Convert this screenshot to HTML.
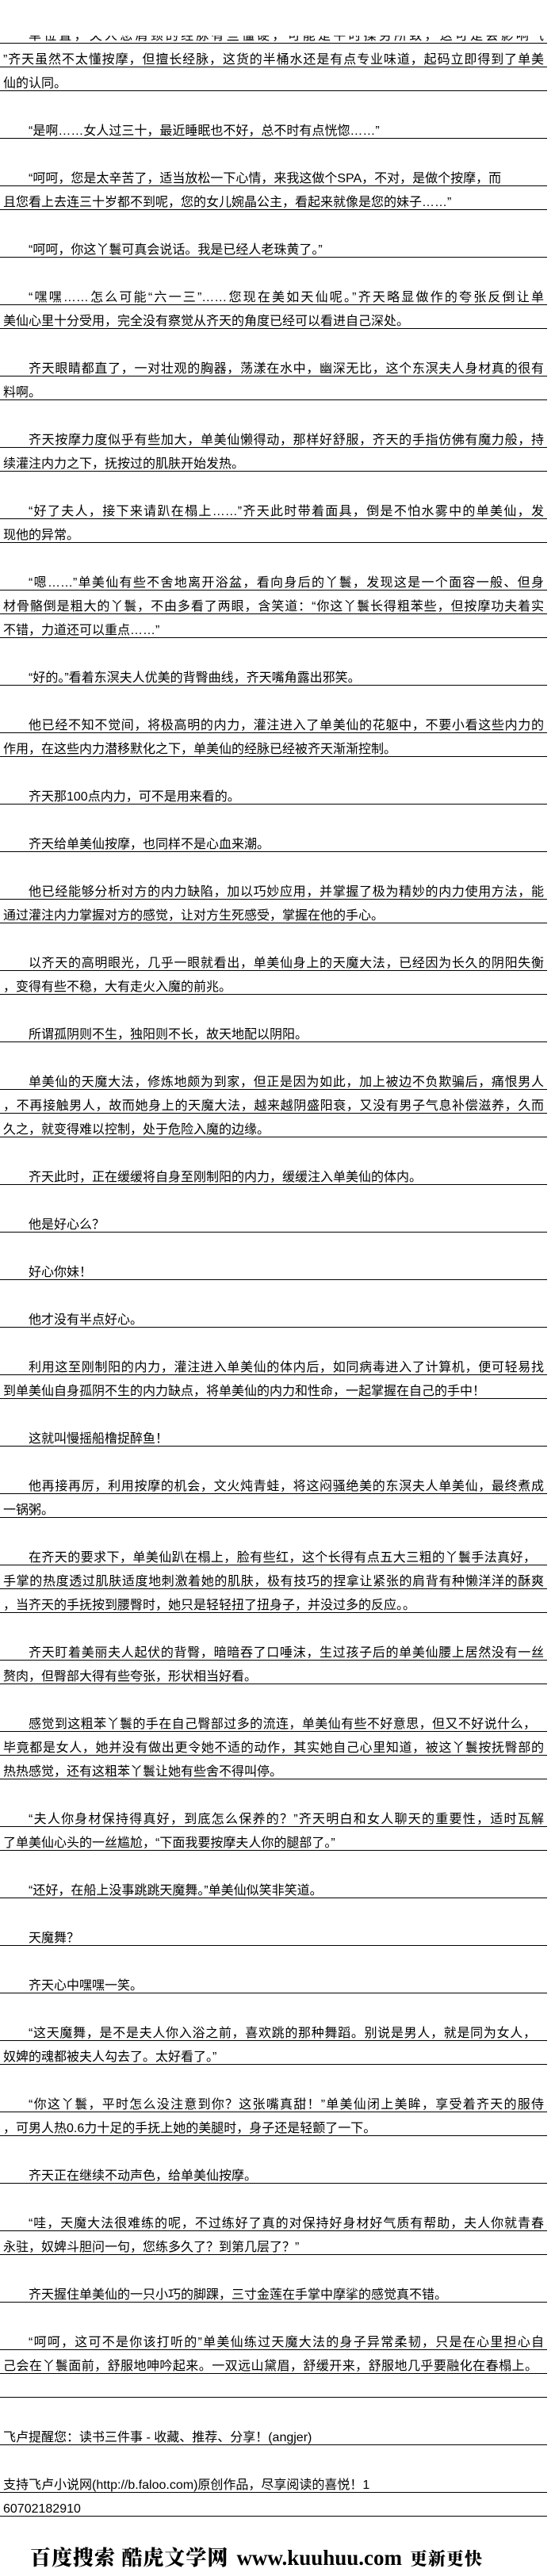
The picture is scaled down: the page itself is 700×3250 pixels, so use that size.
<!DOCTYPE html>
<html><head><meta charset="utf-8">
<style>
html,body{margin:0;padding:0;background:#fff;}
body{width:700px;height:3250px;position:relative;overflow:hidden;font-family:"Liberation Sans","Noto Sans CJK SC",sans-serif;color:#000;}
.l{position:absolute;left:0;width:690px;height:29px;border-bottom:1px solid #000;overflow:hidden;}
.l span{display:block;padding:13px 4px 0 4px;line-height:16px;font-size:16px;white-space:nowrap;height:16px;}
.l span.i{padding-left:36px;}
.l span.j{white-space:normal;text-align:justify;text-align-last:justify;}
.ban{position:absolute;left:38px;top:3207px;white-space:nowrap;display:flex;align-items:baseline;}
.ban .c{font-family:"Noto Serif CJK SC","WenQuanYi Zen Hei",serif;font-weight:900;font-size:26px;letter-spacing:1px;}
.ban .w{font-family:"Liberation Serif",serif;font-weight:bold;font-size:27px;margin:0 10px;}
.ban .c2{font-family:"Noto Serif CJK SC",serif;font-weight:900;font-size:22px;letter-spacing:1px;}
</style></head><body>
<div class="l" style="top:25px"><span class="i j">单位置，夫人您肩颈的经脉有些僵硬，可能是平时操劳所致，这可是会影响气</span></div>
<div style="position:absolute;left:0;top:0;width:700px;height:45px;background:#fff;"></div>
<div class="l" style="top:55px"><span class="j">”齐天虽然不太懂按摩，但擅长经脉，这货的半桶水还是有点专业味道，起码立即得到了单美</span></div>
<div class="l" style="top:85px"><span>仙的认同。</span></div>
<div class="l" style="top:145px"><span class="i">“是啊……女人过三十，最近睡眠也不好，总不时有点恍惚……”</span></div>
<div class="l" style="top:205px"><span class="i">“呵呵，您是太辛苦了，适当放松一下心情，来我这做个SPA，不对，是做个按摩，而</span></div>
<div class="l" style="top:235px"><span>且您看上去连三十岁都不到呢，您的女儿婉晶公主，看起来就像是您的妹子……”</span></div>
<div class="l" style="top:295px"><span class="i">“呵呵，你这丫鬟可真会说话。我是已经人老珠黄了。”</span></div>
<div class="l" style="top:355px"><span class="i j">“嘿嘿……怎么可能“六一三”……您现在美如天仙呢。”齐天略显做作的夸张反倒让单</span></div>
<div class="l" style="top:385px"><span>美仙心里十分受用，完全没有察觉从齐天的角度已经可以看进自己深处。</span></div>
<div class="l" style="top:445px"><span class="i j">齐天眼睛都直了，一对壮观的胸器，荡漾在水中，幽深无比，这个东溟夫人身材真的很有</span></div>
<div class="l" style="top:475px"><span>料啊。</span></div>
<div class="l" style="top:535px"><span class="i j">齐天按摩力度似乎有些加大，单美仙懒得动，那样好舒服，齐天的手指仿佛有魔力般，持</span></div>
<div class="l" style="top:565px"><span>续灌注内力之下，抚按过的肌肤开始发热。</span></div>
<div class="l" style="top:625px"><span class="i j">“好了夫人，接下来请趴在榻上……”齐天此时带着面具，倒是不怕水雾中的单美仙，发</span></div>
<div class="l" style="top:655px"><span>现他的异常。</span></div>
<div class="l" style="top:715px"><span class="i j">“嗯……”单美仙有些不舍地离开浴盆，看向身后的丫鬟，发现这是一个面容一般、但身</span></div>
<div class="l" style="top:745px"><span class="j">材骨骼倒是粗大的丫鬟，不由多看了两眼，含笑道：“你这丫鬟长得粗苯些，但按摩功夫着实</span></div>
<div class="l" style="top:775px"><span>不错，力道还可以重点……”</span></div>
<div class="l" style="top:835px"><span class="i">“好的。”看着东溟夫人优美的背臀曲线，齐天嘴角露出邪笑。</span></div>
<div class="l" style="top:895px"><span class="i j">他已经不知不觉间，将极高明的内力，灌注进入了单美仙的花躯中，不要小看这些内力的</span></div>
<div class="l" style="top:925px"><span>作用，在这些内力潜移默化之下，单美仙的经脉已经被齐天渐渐控制。</span></div>
<div class="l" style="top:985px"><span class="i">齐天那100点内力，可不是用来看的。</span></div>
<div class="l" style="top:1045px"><span class="i">齐天给单美仙按摩，也同样不是心血来潮。</span></div>
<div class="l" style="top:1105px"><span class="i j">他已经能够分析对方的内力缺陷，加以巧妙应用，并掌握了极为精妙的内力使用方法，能</span></div>
<div class="l" style="top:1135px"><span>通过灌注内力掌握对方的感觉，让对方生死感受，掌握在他的手心。</span></div>
<div class="l" style="top:1195px"><span class="i j">以齐天的高明眼光，几乎一眼就看出，单美仙身上的天魔大法，已经因为长久的阴阳失衡</span></div>
<div class="l" style="top:1225px"><span>，变得有些不稳，大有走火入魔的前兆。</span></div>
<div class="l" style="top:1285px"><span class="i">所谓孤阴则不生，独阳则不长，故天地配以阴阳。</span></div>
<div class="l" style="top:1345px"><span class="i j">单美仙的天魔大法，修炼地颇为到家，但正是因为如此，加上被边不负欺骗后，痛恨男人</span></div>
<div class="l" style="top:1375px"><span class="j">，不再接触男人，故而她身上的天魔大法，越来越阴盛阳衰，又没有男子气息补偿滋养，久而</span></div>
<div class="l" style="top:1405px"><span>久之，就变得难以控制，处于危险入魔的边缘。</span></div>
<div class="l" style="top:1465px"><span class="i">齐天此时，正在缓缓将自身至刚制阳的内力，缓缓注入单美仙的体内。</span></div>
<div class="l" style="top:1525px"><span class="i">他是好心么？</span></div>
<div class="l" style="top:1585px"><span class="i">好心你妹！</span></div>
<div class="l" style="top:1645px"><span class="i">他才没有半点好心。</span></div>
<div class="l" style="top:1705px"><span class="i j">利用这至刚制阳的内力，灌注进入单美仙的体内后，如同病毒进入了计算机，便可轻易找</span></div>
<div class="l" style="top:1735px"><span>到单美仙自身孤阴不生的内力缺点，将单美仙的内力和性命，一起掌握在自己的手中！</span></div>
<div class="l" style="top:1795px"><span class="i">这就叫慢摇船橹捉醉鱼！</span></div>
<div class="l" style="top:1855px"><span class="i j">他再接再厉，利用按摩的机会，文火炖青蛙，将这闷骚绝美的东溟夫人单美仙，最终煮成</span></div>
<div class="l" style="top:1885px"><span>一锅粥。</span></div>
<div class="l" style="top:1945px"><span class="i j" style="padding-right:14px">在齐天的要求下，单美仙趴在榻上，脸有些红，这个长得有点五大三粗的丫鬟手法真好，</span></div>
<div class="l" style="top:1975px"><span class="j">手掌的热度透过肌肤适度地刺激着她的肌肤，极有技巧的捏拿让紧张的肩背有种懒洋洋的酥爽</span></div>
<div class="l" style="top:2005px"><span>，当齐天的手抚按到腰臀时，她只是轻轻扭了扭身子，并没过多的反应。。</span></div>
<div class="l" style="top:2065px"><span class="i j">齐天盯着美丽夫人起伏的背臀，暗暗吞了口唾沫，生过孩子后的单美仙腰上居然没有一丝</span></div>
<div class="l" style="top:2095px"><span>赘肉，但臀部大得有些夸张，形状相当好看。</span></div>
<div class="l" style="top:2155px"><span class="i j" style="padding-right:14px">感觉到这粗苯丫鬟的手在自己臀部过多的流连，单美仙有些不好意思，但又不好说什么，</span></div>
<div class="l" style="top:2185px"><span class="j">毕竟都是女人，她并没有做出更令她不适的动作，其实她自己心里知道，被这丫鬟按抚臀部的</span></div>
<div class="l" style="top:2215px"><span>热热感觉，还有这粗苯丫鬟让她有些舍不得叫停。</span></div>
<div class="l" style="top:2275px"><span class="i j">“夫人你身材保持得真好，到底怎么保养的？”齐天明白和女人聊天的重要性，适时瓦解</span></div>
<div class="l" style="top:2305px"><span>了单美仙心头的一丝尴尬，“下面我要按摩夫人你的腿部了。”</span></div>
<div class="l" style="top:2365px"><span class="i">“还好，在船上没事跳跳天魔舞。”单美仙似笑非笑道。</span></div>
<div class="l" style="top:2425px"><span class="i">天魔舞？</span></div>
<div class="l" style="top:2485px"><span class="i">齐天心中嘿嘿一笑。</span></div>
<div class="l" style="top:2545px"><span class="i j" style="padding-right:14px">“这天魔舞，是不是夫人你入浴之前，喜欢跳的那种舞蹈。别说是男人，就是同为女人，</span></div>
<div class="l" style="top:2575px"><span>奴婢的魂都被夫人勾去了。太好看了。”</span></div>
<div class="l" style="top:2635px"><span class="i j">“你这丫鬟，平时怎么没注意到你？这张嘴真甜！”单美仙闭上美眸，享受着齐天的服侍</span></div>
<div class="l" style="top:2665px"><span>，可男人热0.6力十足的手抚上她的美腿时，身子还是轻颤了一下。</span></div>
<div class="l" style="top:2725px"><span class="i">齐天正在继续不动声色，给单美仙按摩。</span></div>
<div class="l" style="top:2785px"><span class="i j">“哇，天魔大法很难练的呢，不过练好了真的对保持好身材好气质有帮助，夫人你就青春</span></div>
<div class="l" style="top:2815px"><span>永驻，奴婢斗胆问一句，您练多久了？到第几层了？”</span></div>
<div class="l" style="top:2875px"><span class="i">齐天握住单美仙的一只小巧的脚踝，三寸金莲在手掌中摩挲的感觉真不错。</span></div>
<div class="l" style="top:2935px"><span class="i j">“呵呵，这可不是你该打听的”单美仙练过天魔大法的身子异常柔韧，只是在心里担心自</span></div>
<div class="l" style="top:2965px"><span class="j" style="padding-right:12px">己会在丫鬟面前，舒服地呻吟起来。一双远山黛眉，舒缓开来，舒服地几乎要融化在春榻上。</span></div>
<div class="l" style="top:2995px"><span></span></div>
<div class="l" style="top:3055px"><span>飞卢提醒您：读书三件事 - 收藏、推荐、分享！(angjer)</span></div>
<div class="l" style="top:3115px"><span>支持飞卢小说网(http://b.faloo.com)原创作品，尽享阅读的喜悦！1</span></div>
<div class="l" style="top:3145px"><span>60702182910</span></div>
<div class="ban"><span class="c">百度搜索 酷虎文学网</span><span class="w">www.kuuhuu.com</span><span class="c2">更新更快</span></div>
</body></html>
